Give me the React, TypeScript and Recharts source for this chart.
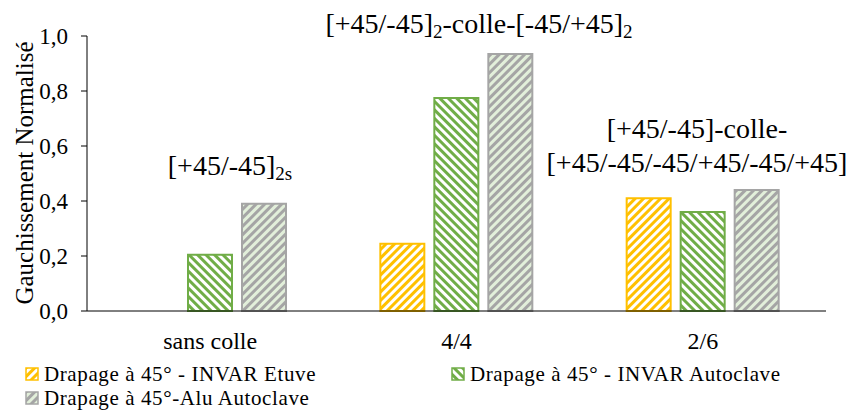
import React from 'react';
import { BarChart, Bar, XAxis, YAxis, Customized } from 'recharts';

const categories = ['sans colle', '4/4', '2/6'];
const invarEtuve = [null, 0.245, 0.41];
const invarAutoclave = [0.205, 0.775, 0.36];
const aluAutoclave = [0.39, 0.935, 0.44];
const yTicks = [0, 0.2, 0.4, 0.6, 0.8, 1.0];
const seriesNames = [
  'Drapage à 45° - INVAR Etuve',
  'Drapage à 45° - INVAR Autoclave',
  'Drapage à 45°-Alu Autoclave',
];

const data = categories.map((c, i) => ({
  cat: c,
  etuve: invarEtuve[i],
  invar: invarAutoclave[i],
  alu: aluAutoclave[i],
}));

const FONT = '"Liberation Serif", "Times New Roman", Tinos, "DejaVu Serif", serif';

const Patterns = ({ prefix }: { prefix: string }) => (
  <defs>
    <pattern id={`${prefix}Yellow`} patternUnits="userSpaceOnUse" width="6" height="6" patternTransform="rotate(45)">
      <rect width="6" height="6" fill="#ffffff" />
      <rect x="0" y="0" width="3" height="6" fill="#FFC000" />
    </pattern>
    <pattern id={`${prefix}Green`} patternUnits="userSpaceOnUse" width="6" height="6" patternTransform="rotate(-45)">
      <rect width="6" height="6" fill="#ffffff" />
      <rect x="0" y="0" width="3" height="6" fill="#70AD47" />
    </pattern>
    <pattern id={`${prefix}Gray`} patternUnits="userSpaceOnUse" width="6" height="6" patternTransform="rotate(45)">
      <rect width="6" height="6" fill="#E2EFDA" />
      <rect x="0" y="0" width="3" height="6" fill="#A5A5A5" />
    </pattern>
  </defs>
);

const Annotations = () => (
  <g fontFamily={FONT} fill="#000">
    <text x={24} y={173} fontSize={25} fontFamily={FONT} textAnchor="middle" transform="rotate(-90 24 173)" dominantBaseline="central">
      Gauchissement Normalisé
    </text>
    <text x={479} y={33} fontSize={28} fontFamily={FONT} textAnchor="middle">
      [+45/-45]<tspan fontSize={19} dy={5}>2</tspan><tspan dy={-5}>-colle-[-45/+45]</tspan><tspan fontSize={19} dy={5}>2</tspan>
    </text>
    <text x={230} y={175} fontSize={28} fontFamily={FONT} textAnchor="middle">
      [+45/-45]<tspan fontSize={19} dy={5}>2s</tspan>
    </text>
    <text x={697} y={138} fontSize={28} fontFamily={FONT} textAnchor="middle">[+45/-45]-colle-</text>
    <text x={697} y={172} fontSize={28} fontFamily={FONT} textAnchor="middle">[+45/-45/-45/+45/-45/+45]</text>
  </g>
);

const LegendBox = ({ fill, stroke }: { fill: string; stroke: string }) => (
  <svg width={14} height={14} style={{ display: 'block', marginRight: 5 }}>
    <Patterns prefix="lg" />
    <rect x={1} y={1} width={12} height={12} fill={fill} stroke={stroke} strokeWidth={1.5} />
  </svg>
);

const legendItems = [
  { name: seriesNames[0], fill: 'url(#lgYellow)', stroke: '#FFC000', left: 25, top: 362 },
  { name: seriesNames[1], fill: 'url(#lgGreen)', stroke: '#70AD47', left: 451, top: 362 },
  { name: seriesNames[2], fill: 'url(#lgGray)', stroke: '#A5A5A5', left: 25, top: 386 },
];

export default function App() {
  return (
    <div style={{ position: 'absolute', left: 0, top: 0, width: 855, height: 410, background: '#fff', fontFamily: FONT }}>
      <BarChart
        width={855}
        height={410}
        data={data}
        margin={{ top: 36, right: 29, bottom: 69, left: 0 }}
        barSize={44}
        barGap={10}
        style={{ fontFamily: FONT }}
      >
        <Patterns prefix="pat" />
        <XAxis
          dataKey="cat"
          tickLine={false}
          axisLine={{ stroke: '#000', strokeWidth: 1 }}
          tick={{ fill: '#000', fontSize: 24, fontFamily: FONT }}
          tickSize={0}
          tickMargin={21}
          height={30}
        />
        <YAxis
          domain={[0, 1]}
          ticks={yTicks}
          width={87}
          tickFormatter={(v: number) => v.toFixed(1).replace('.', ',')}
          axisLine={{ stroke: '#000', strokeWidth: 1 }}
          tickLine={{ stroke: '#000' }}
          tickSize={6}
          tickMargin={13}
          tick={{ fill: '#000', fontSize: 23, fontFamily: FONT }}
        />
        <Bar dataKey="etuve" name={seriesNames[0]} fill="url(#patYellow)" stroke="#FFC000" strokeWidth={2} isAnimationActive={false} />
        <Bar dataKey="invar" name={seriesNames[1]} fill="url(#patGreen)" stroke="#70AD47" strokeWidth={2} isAnimationActive={false} />
        <Bar dataKey="alu" name={seriesNames[2]} fill="url(#patGray)" stroke="#A5A5A5" strokeWidth={2} isAnimationActive={false} />
        <Customized component={Annotations} />
      </BarChart>
      {legendItems.map((it) => (
        <div
          key={it.name}
          style={{ position: 'absolute', left: it.left, top: it.top, height: 24, display: 'flex', alignItems: 'center', fontSize: 21, lineHeight: '24px', letterSpacing: '0.6px', color: '#000', whiteSpace: 'nowrap', fontFamily: FONT }}
        >
          <LegendBox fill={it.fill} stroke={it.stroke} />
          <span>{it.name}</span>
        </div>
      ))}
    </div>
  );
}
